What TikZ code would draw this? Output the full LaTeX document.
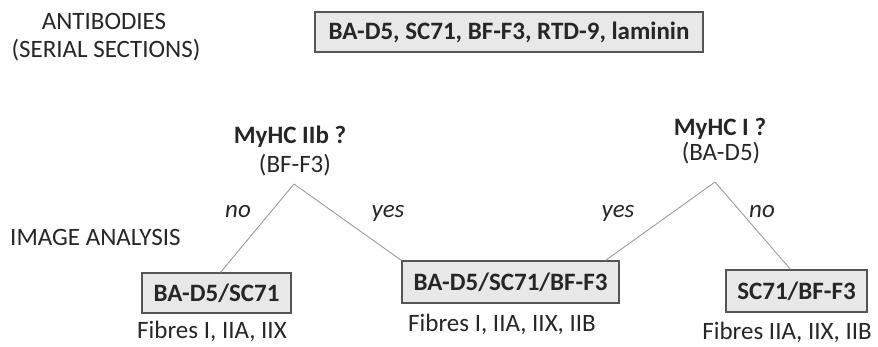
\documentclass[tikz,border=0pt]{standalone}
\usepackage{fontspec}
\setmainfont{Carlito}
\usetikzlibrary{positioning}
\usetikzlibrary{calc}

\definecolor{txtgray}{HTML}{262626}
\definecolor{boxfill}{HTML}{E8E8E8}
\definecolor{boxline}{HTML}{555555}
\definecolor{linegray}{HTML}{9A9A9A}

\tikzset{
  txt/.style={font=\fontsize{25}{28}\selectfont,text=txtgray,inner sep=0pt},
  resbox/.style={draw=boxline,fill=boxfill,line width=1.2pt,font=\fontsize{25}{28}\selectfont\bfseries,text=txtgray,inner sep=0pt},
  conn/.style={draw=linegray,line width=0.9pt}
}

\begin{document}
\begin{tikzpicture}[x=1pt,y=-1pt]
\useasboundingbox (0,0) rectangle (878,346);

\node[txt,anchor=base] (ab) at (104,29) {ANTIBODIES};
\node[txt,anchor=base] (ss) at (106,57) {(SERIAL SECTIONS)};
\node[resbox,minimum width=388pt,minimum height=40pt] (top) at (509,32) {BA-D5, SC71, BF-F3, RTD-9, laminin};

\node[txt,anchor=base west] (ia) at (10,245) {IMAGE ANALYSIS};

% first question
\node[txt,anchor=base,font=\fontsize{25}{28}\selectfont\bfseries] (q1) at (290,143) {MyHC IIb ?};
\node[txt,anchor=base] (q1ab) at (295,172) {(BF-F3)};
\coordinate (a1) at (294,184);
\node[txt,anchor=base,font=\fontsize{25}{28}\selectfont\itshape] (no1) at (238,217) {no};
\node[txt,anchor=base,font=\fontsize{25}{28}\selectfont\itshape] (yes1) at (388,217) {yes};

% second question
\node[txt,anchor=base,font=\fontsize{25}{28}\selectfont\bfseries] (q2) at (720,135) {MyHC I ?};
\node[txt,anchor=base] (q2ab) at (721,160) {(BA-D5)};
\coordinate (a2) at (715,182);
\node[txt,anchor=base,font=\fontsize{25}{28}\selectfont\itshape] (yes2) at (618,217) {yes};
\node[txt,anchor=base,font=\fontsize{25}{28}\selectfont\itshape] (no2) at (762,217) {no};

% results
\node[resbox,minimum width=149pt,minimum height=40pt] (lbox) at (216.5,293) {BA-D5/SC71};
\node[resbox,minimum width=217pt,minimum height=42pt] (mbox) at (510.5,282) {BA-D5/SC71/BF-F3};
\node[resbox,minimum width=141pt,minimum height=42pt] (rbox) at (796.5,291) {SC71/BF-F3};

\node[txt,anchor=base] (lfib) at (212,338) {Fibres I, IIA, IIX};
\node[txt,anchor=base] (mfib) at (502,331) {Fibres I, IIA, IIX, IIB};
\node[txt,anchor=base east] (rfib) at (872,339) {Fibres IIA, IIX, IIB};

\draw[conn] (a1) -- ($(lbox.north)+(4,0)$);
\draw[conn] (a1) -- (mbox.north west);
\draw[conn] (a2) -- ($(mbox.north east)+(-14,0)$);
\draw[conn] (a2) -- ($(rbox.north)+(-6,0)$);

\end{tikzpicture}
\end{document}
